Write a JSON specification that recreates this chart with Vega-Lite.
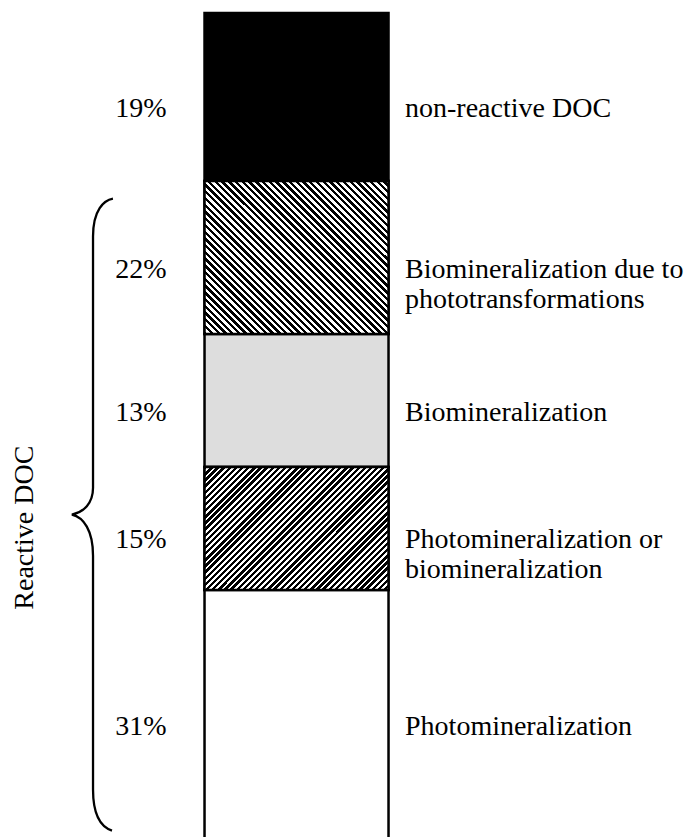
{
  "$schema": "https://vega.github.io/schema/vega-lite/v6.json",
  "width": 689,
  "height": 824,
  "autosize": {"type": "none"},
  "padding": {"top": 13, "left": 0, "right": 0, "bottom": 0},
  "background": "#ffffff",
  "config": {
    "view": {"stroke": null},
    "text": {"font": "Liberation Serif", "fontSize": 28, "color": "#000000"}
  },
  "datasets": {
    "pools": [
      {"pool": "DOC", "segment": "non-reactive DOC", "fraction": 0.19, "drawnShare": 20.31, "order": 1},
      {"pool": "DOC", "segment": "Biomineralization due to\nphototransformations", "fraction": 0.22, "drawnShare": 18.49, "order": 2},
      {"pool": "DOC", "segment": "Biomineralization", "fraction": 0.13, "drawnShare": 16.08, "order": 3},
      {"pool": "DOC", "segment": "Photomineralization or\nbiomineralization", "fraction": 0.15, "drawnShare": 14.86, "order": 4},
      {"pool": "DOC", "segment": "Photomineralization", "fraction": 0.31, "drawnShare": 30.26, "order": 5}
    ],
    "groups": [
      {"pool": "DOC", "group": "Reactive DOC", "from": 20.31, "to": 100}
    ]
  },
  "layer": [
    {
      "data": {"name": "pools"},
      "transform": [
        {"stack": "drawnShare", "groupby": ["pool"], "sort": [{"field": "order", "order": "ascending"}], "as": ["y0", "y1"]},
        {"calculate": "(datum.y0 + datum.y1) / 2", "as": "mid"}
      ],
      "layer": [
        {
          "mark": {"type": "bar", "stroke": "#000000", "strokeWidth": 2.5},
          "encoding": {
            "x": {"field": "pool", "type": "nominal", "axis": null, "scale": {"paddingInner": 0.2713, "paddingOuter": 1, "align": 0.405}},
            "y": {"field": "y0", "type": "quantitative", "axis": null, "scale": {"domain": [0, 99.6], "reverse": true, "nice": false, "zero": false}},
            "y2": {"field": "y1"},
            "fill": {
              "field": "segment", "type": "nominal", "legend": null,
              "scale": {
                "domain": ["non-reactive DOC", "Biomineralization due to\nphototransformations", "Biomineralization", "Photomineralization or\nbiomineralization", "Photomineralization"],
                "range": ["#000000", "#ffffff", "#dddddd", "#ffffff", "#ffffff"]
              }
            }
          }
        },
        {
          "transform": [{"filter": "datum.order == 2"}],
          "mark": {
            "type": "bar", "stroke": "#000000", "strokeWidth": 2.5,
            "fill": {
              "gradient": "linear", "x1": 0, "y1": 1, "x2": 1.0828, "y2": 0.0996,
              "stops": [
                {"offset":0,"color":"#000"},
                {"offset":0.01,"color":"#000"},{"offset":0.01,"color":"#fff"},
                {"offset":0.02,"color":"#fff"},{"offset":0.02,"color":"#000"},
                {"offset":0.03,"color":"#000"},{"offset":0.03,"color":"#fff"},
                {"offset":0.04,"color":"#fff"},{"offset":0.04,"color":"#000"},
                {"offset":0.05,"color":"#000"},{"offset":0.05,"color":"#fff"},
                {"offset":0.06,"color":"#fff"},{"offset":0.06,"color":"#000"},
                {"offset":0.07,"color":"#000"},{"offset":0.07,"color":"#fff"},
                {"offset":0.08,"color":"#fff"},{"offset":0.08,"color":"#000"},
                {"offset":0.09,"color":"#000"},{"offset":0.09,"color":"#fff"},
                {"offset":0.1,"color":"#fff"},{"offset":0.1,"color":"#000"},
                {"offset":0.11,"color":"#000"},{"offset":0.11,"color":"#fff"},
                {"offset":0.12,"color":"#fff"},{"offset":0.12,"color":"#000"},
                {"offset":0.13,"color":"#000"},{"offset":0.13,"color":"#fff"},
                {"offset":0.14,"color":"#fff"},{"offset":0.14,"color":"#000"},
                {"offset":0.15,"color":"#000"},{"offset":0.15,"color":"#fff"},
                {"offset":0.16,"color":"#fff"},{"offset":0.16,"color":"#000"},
                {"offset":0.17,"color":"#000"},{"offset":0.17,"color":"#fff"},
                {"offset":0.18,"color":"#fff"},{"offset":0.18,"color":"#000"},
                {"offset":0.19,"color":"#000"},{"offset":0.19,"color":"#fff"},
                {"offset":0.2,"color":"#fff"},{"offset":0.2,"color":"#000"},
                {"offset":0.21,"color":"#000"},{"offset":0.21,"color":"#fff"},
                {"offset":0.22,"color":"#fff"},{"offset":0.22,"color":"#000"},
                {"offset":0.23,"color":"#000"},{"offset":0.23,"color":"#fff"},
                {"offset":0.24,"color":"#fff"},{"offset":0.24,"color":"#000"},
                {"offset":0.25,"color":"#000"},{"offset":0.25,"color":"#fff"},
                {"offset":0.26,"color":"#fff"},{"offset":0.26,"color":"#000"},
                {"offset":0.27,"color":"#000"},{"offset":0.27,"color":"#fff"},
                {"offset":0.28,"color":"#fff"},{"offset":0.28,"color":"#000"},
                {"offset":0.29,"color":"#000"},{"offset":0.29,"color":"#fff"},
                {"offset":0.3,"color":"#fff"},{"offset":0.3,"color":"#000"},
                {"offset":0.31,"color":"#000"},{"offset":0.31,"color":"#fff"},
                {"offset":0.32,"color":"#fff"},{"offset":0.32,"color":"#000"},
                {"offset":0.33,"color":"#000"},{"offset":0.33,"color":"#fff"},
                {"offset":0.34,"color":"#fff"},{"offset":0.34,"color":"#000"},
                {"offset":0.35,"color":"#000"},{"offset":0.35,"color":"#fff"},
                {"offset":0.36,"color":"#fff"},{"offset":0.36,"color":"#000"},
                {"offset":0.37,"color":"#000"},{"offset":0.37,"color":"#fff"},
                {"offset":0.38,"color":"#fff"},{"offset":0.38,"color":"#000"},
                {"offset":0.39,"color":"#000"},{"offset":0.39,"color":"#fff"},
                {"offset":0.4,"color":"#fff"},{"offset":0.4,"color":"#000"},
                {"offset":0.41,"color":"#000"},{"offset":0.41,"color":"#fff"},
                {"offset":0.42,"color":"#fff"},{"offset":0.42,"color":"#000"},
                {"offset":0.43,"color":"#000"},{"offset":0.43,"color":"#fff"},
                {"offset":0.44,"color":"#fff"},{"offset":0.44,"color":"#000"},
                {"offset":0.45,"color":"#000"},{"offset":0.45,"color":"#fff"},
                {"offset":0.46,"color":"#fff"},{"offset":0.46,"color":"#000"},
                {"offset":0.47,"color":"#000"},{"offset":0.47,"color":"#fff"},
                {"offset":0.48,"color":"#fff"},{"offset":0.48,"color":"#000"},
                {"offset":0.49,"color":"#000"},{"offset":0.49,"color":"#fff"},
                {"offset":0.5,"color":"#fff"},{"offset":0.5,"color":"#000"},
                {"offset":0.51,"color":"#000"},{"offset":0.51,"color":"#fff"},
                {"offset":0.52,"color":"#fff"},{"offset":0.52,"color":"#000"},
                {"offset":0.53,"color":"#000"},{"offset":0.53,"color":"#fff"},
                {"offset":0.54,"color":"#fff"},{"offset":0.54,"color":"#000"},
                {"offset":0.55,"color":"#000"},{"offset":0.55,"color":"#fff"},
                {"offset":0.56,"color":"#fff"},{"offset":0.56,"color":"#000"},
                {"offset":0.57,"color":"#000"},{"offset":0.57,"color":"#fff"},
                {"offset":0.58,"color":"#fff"},{"offset":0.58,"color":"#000"},
                {"offset":0.59,"color":"#000"},{"offset":0.59,"color":"#fff"},
                {"offset":0.6,"color":"#fff"},{"offset":0.6,"color":"#000"},
                {"offset":0.61,"color":"#000"},{"offset":0.61,"color":"#fff"},
                {"offset":0.62,"color":"#fff"},{"offset":0.62,"color":"#000"},
                {"offset":0.63,"color":"#000"},{"offset":0.63,"color":"#fff"},
                {"offset":0.64,"color":"#fff"},{"offset":0.64,"color":"#000"},
                {"offset":0.65,"color":"#000"},{"offset":0.65,"color":"#fff"},
                {"offset":0.66,"color":"#fff"},{"offset":0.66,"color":"#000"},
                {"offset":0.67,"color":"#000"},{"offset":0.67,"color":"#fff"},
                {"offset":0.68,"color":"#fff"},{"offset":0.68,"color":"#000"},
                {"offset":0.69,"color":"#000"},{"offset":0.69,"color":"#fff"},
                {"offset":0.7,"color":"#fff"},{"offset":0.7,"color":"#000"},
                {"offset":0.71,"color":"#000"},{"offset":0.71,"color":"#fff"},
                {"offset":0.72,"color":"#fff"},{"offset":0.72,"color":"#000"},
                {"offset":0.73,"color":"#000"},{"offset":0.73,"color":"#fff"},
                {"offset":0.74,"color":"#fff"},{"offset":0.74,"color":"#000"},
                {"offset":0.75,"color":"#000"},{"offset":0.75,"color":"#fff"},
                {"offset":0.76,"color":"#fff"},{"offset":0.76,"color":"#000"},
                {"offset":0.77,"color":"#000"},{"offset":0.77,"color":"#fff"},
                {"offset":0.78,"color":"#fff"},{"offset":0.78,"color":"#000"},
                {"offset":0.79,"color":"#000"},{"offset":0.79,"color":"#fff"},
                {"offset":0.8,"color":"#fff"},{"offset":0.8,"color":"#000"},
                {"offset":0.81,"color":"#000"},{"offset":0.81,"color":"#fff"},
                {"offset":0.82,"color":"#fff"},{"offset":0.82,"color":"#000"},
                {"offset":0.83,"color":"#000"},{"offset":0.83,"color":"#fff"},
                {"offset":0.84,"color":"#fff"},{"offset":0.84,"color":"#000"},
                {"offset":0.85,"color":"#000"},{"offset":0.85,"color":"#fff"},
                {"offset":0.86,"color":"#fff"},{"offset":0.86,"color":"#000"},
                {"offset":0.87,"color":"#000"},{"offset":0.87,"color":"#fff"},
                {"offset":0.88,"color":"#fff"},{"offset":0.88,"color":"#000"},
                {"offset":0.89,"color":"#000"},{"offset":0.89,"color":"#fff"},
                {"offset":0.9,"color":"#fff"},{"offset":0.9,"color":"#000"},
                {"offset":0.91,"color":"#000"},{"offset":0.91,"color":"#fff"},
                {"offset":0.92,"color":"#fff"},{"offset":0.92,"color":"#000"},
                {"offset":0.93,"color":"#000"},{"offset":0.93,"color":"#fff"},
                {"offset":0.94,"color":"#fff"},{"offset":0.94,"color":"#000"},
                {"offset":0.95,"color":"#000"},{"offset":0.95,"color":"#fff"},
                {"offset":0.96,"color":"#fff"},{"offset":0.96,"color":"#000"},
                {"offset":0.97,"color":"#000"},{"offset":0.97,"color":"#fff"},
                {"offset":0.98,"color":"#fff"},{"offset":0.98,"color":"#000"},
                {"offset":0.99,"color":"#000"},{"offset":0.99,"color":"#fff"},
                {"offset":1,"color":"#fff"}
              ]
            }
          },
          "encoding": {
            "x": {"field": "pool", "type": "nominal"},
            "y": {"field": "y0", "type": "quantitative"},
            "y2": {"field": "y1"}
          }
        },
        {
          "transform": [{"filter": "datum.order == 4"}],
          "mark": {
            "type": "bar", "stroke": "#000000", "strokeWidth": 2.5,
            "fill": {
              "gradient": "linear", "x1": 0, "y1": 0, "x2": 1.1534, "y2": 0.7705,
              "stops": [
                {"offset":0,"color":"#000"},
                {"offset":0.011,"color":"#000"},{"offset":0.011,"color":"#fff"},
                {"offset":0.02,"color":"#fff"},{"offset":0.02,"color":"#000"},
                {"offset":0.031,"color":"#000"},{"offset":0.031,"color":"#fff"},
                {"offset":0.04,"color":"#fff"},{"offset":0.04,"color":"#000"},
                {"offset":0.051,"color":"#000"},{"offset":0.051,"color":"#fff"},
                {"offset":0.06,"color":"#fff"},{"offset":0.06,"color":"#000"},
                {"offset":0.071,"color":"#000"},{"offset":0.071,"color":"#fff"},
                {"offset":0.08,"color":"#fff"},{"offset":0.08,"color":"#000"},
                {"offset":0.091,"color":"#000"},{"offset":0.091,"color":"#fff"},
                {"offset":0.1,"color":"#fff"},{"offset":0.1,"color":"#000"},
                {"offset":0.111,"color":"#000"},{"offset":0.111,"color":"#fff"},
                {"offset":0.12,"color":"#fff"},{"offset":0.12,"color":"#000"},
                {"offset":0.131,"color":"#000"},{"offset":0.131,"color":"#fff"},
                {"offset":0.14,"color":"#fff"},{"offset":0.14,"color":"#000"},
                {"offset":0.151,"color":"#000"},{"offset":0.151,"color":"#fff"},
                {"offset":0.16,"color":"#fff"},{"offset":0.16,"color":"#000"},
                {"offset":0.171,"color":"#000"},{"offset":0.171,"color":"#fff"},
                {"offset":0.18,"color":"#fff"},{"offset":0.18,"color":"#000"},
                {"offset":0.191,"color":"#000"},{"offset":0.191,"color":"#fff"},
                {"offset":0.2,"color":"#fff"},{"offset":0.2,"color":"#000"},
                {"offset":0.211,"color":"#000"},{"offset":0.211,"color":"#fff"},
                {"offset":0.22,"color":"#fff"},{"offset":0.22,"color":"#000"},
                {"offset":0.231,"color":"#000"},{"offset":0.231,"color":"#fff"},
                {"offset":0.24,"color":"#fff"},{"offset":0.24,"color":"#000"},
                {"offset":0.251,"color":"#000"},{"offset":0.251,"color":"#fff"},
                {"offset":0.26,"color":"#fff"},{"offset":0.26,"color":"#000"},
                {"offset":0.271,"color":"#000"},{"offset":0.271,"color":"#fff"},
                {"offset":0.28,"color":"#fff"},{"offset":0.28,"color":"#000"},
                {"offset":0.291,"color":"#000"},{"offset":0.291,"color":"#fff"},
                {"offset":0.3,"color":"#fff"},{"offset":0.3,"color":"#000"},
                {"offset":0.311,"color":"#000"},{"offset":0.311,"color":"#fff"},
                {"offset":0.32,"color":"#fff"},{"offset":0.32,"color":"#000"},
                {"offset":0.331,"color":"#000"},{"offset":0.331,"color":"#fff"},
                {"offset":0.34,"color":"#fff"},{"offset":0.34,"color":"#000"},
                {"offset":0.351,"color":"#000"},{"offset":0.351,"color":"#fff"},
                {"offset":0.36,"color":"#fff"},{"offset":0.36,"color":"#000"},
                {"offset":0.371,"color":"#000"},{"offset":0.371,"color":"#fff"},
                {"offset":0.38,"color":"#fff"},{"offset":0.38,"color":"#000"},
                {"offset":0.391,"color":"#000"},{"offset":0.391,"color":"#fff"},
                {"offset":0.4,"color":"#fff"},{"offset":0.4,"color":"#000"},
                {"offset":0.411,"color":"#000"},{"offset":0.411,"color":"#fff"},
                {"offset":0.42,"color":"#fff"},{"offset":0.42,"color":"#000"},
                {"offset":0.431,"color":"#000"},{"offset":0.431,"color":"#fff"},
                {"offset":0.44,"color":"#fff"},{"offset":0.44,"color":"#000"},
                {"offset":0.451,"color":"#000"},{"offset":0.451,"color":"#fff"},
                {"offset":0.46,"color":"#fff"},{"offset":0.46,"color":"#000"},
                {"offset":0.471,"color":"#000"},{"offset":0.471,"color":"#fff"},
                {"offset":0.48,"color":"#fff"},{"offset":0.48,"color":"#000"},
                {"offset":0.491,"color":"#000"},{"offset":0.491,"color":"#fff"},
                {"offset":0.5,"color":"#fff"},{"offset":0.5,"color":"#000"},
                {"offset":0.511,"color":"#000"},{"offset":0.511,"color":"#fff"},
                {"offset":0.52,"color":"#fff"},{"offset":0.52,"color":"#000"},
                {"offset":0.531,"color":"#000"},{"offset":0.531,"color":"#fff"},
                {"offset":0.54,"color":"#fff"},{"offset":0.54,"color":"#000"},
                {"offset":0.551,"color":"#000"},{"offset":0.551,"color":"#fff"},
                {"offset":0.56,"color":"#fff"},{"offset":0.56,"color":"#000"},
                {"offset":0.571,"color":"#000"},{"offset":0.571,"color":"#fff"},
                {"offset":0.58,"color":"#fff"},{"offset":0.58,"color":"#000"},
                {"offset":0.591,"color":"#000"},{"offset":0.591,"color":"#fff"},
                {"offset":0.6,"color":"#fff"},{"offset":0.6,"color":"#000"},
                {"offset":0.611,"color":"#000"},{"offset":0.611,"color":"#fff"},
                {"offset":0.62,"color":"#fff"},{"offset":0.62,"color":"#000"},
                {"offset":0.631,"color":"#000"},{"offset":0.631,"color":"#fff"},
                {"offset":0.64,"color":"#fff"},{"offset":0.64,"color":"#000"},
                {"offset":0.651,"color":"#000"},{"offset":0.651,"color":"#fff"},
                {"offset":0.66,"color":"#fff"},{"offset":0.66,"color":"#000"},
                {"offset":0.671,"color":"#000"},{"offset":0.671,"color":"#fff"},
                {"offset":0.68,"color":"#fff"},{"offset":0.68,"color":"#000"},
                {"offset":0.691,"color":"#000"},{"offset":0.691,"color":"#fff"},
                {"offset":0.7,"color":"#fff"},{"offset":0.7,"color":"#000"},
                {"offset":0.711,"color":"#000"},{"offset":0.711,"color":"#fff"},
                {"offset":0.72,"color":"#fff"},{"offset":0.72,"color":"#000"},
                {"offset":0.731,"color":"#000"},{"offset":0.731,"color":"#fff"},
                {"offset":0.74,"color":"#fff"},{"offset":0.74,"color":"#000"},
                {"offset":0.751,"color":"#000"},{"offset":0.751,"color":"#fff"},
                {"offset":0.76,"color":"#fff"},{"offset":0.76,"color":"#000"},
                {"offset":0.771,"color":"#000"},{"offset":0.771,"color":"#fff"},
                {"offset":0.78,"color":"#fff"},{"offset":0.78,"color":"#000"},
                {"offset":0.791,"color":"#000"},{"offset":0.791,"color":"#fff"},
                {"offset":0.8,"color":"#fff"},{"offset":0.8,"color":"#000"},
                {"offset":0.811,"color":"#000"},{"offset":0.811,"color":"#fff"},
                {"offset":0.82,"color":"#fff"},{"offset":0.82,"color":"#000"},
                {"offset":0.831,"color":"#000"},{"offset":0.831,"color":"#fff"},
                {"offset":0.84,"color":"#fff"},{"offset":0.84,"color":"#000"},
                {"offset":0.851,"color":"#000"},{"offset":0.851,"color":"#fff"},
                {"offset":0.86,"color":"#fff"},{"offset":0.86,"color":"#000"},
                {"offset":0.871,"color":"#000"},{"offset":0.871,"color":"#fff"},
                {"offset":0.88,"color":"#fff"},{"offset":0.88,"color":"#000"},
                {"offset":0.891,"color":"#000"},{"offset":0.891,"color":"#fff"},
                {"offset":0.9,"color":"#fff"},{"offset":0.9,"color":"#000"},
                {"offset":0.911,"color":"#000"},{"offset":0.911,"color":"#fff"},
                {"offset":0.92,"color":"#fff"},{"offset":0.92,"color":"#000"},
                {"offset":0.931,"color":"#000"},{"offset":0.931,"color":"#fff"},
                {"offset":0.94,"color":"#fff"},{"offset":0.94,"color":"#000"},
                {"offset":0.951,"color":"#000"},{"offset":0.951,"color":"#fff"},
                {"offset":0.96,"color":"#fff"},{"offset":0.96,"color":"#000"},
                {"offset":0.971,"color":"#000"},{"offset":0.971,"color":"#fff"},
                {"offset":0.98,"color":"#fff"},{"offset":0.98,"color":"#000"},
                {"offset":0.991,"color":"#000"},{"offset":0.991,"color":"#fff"},
                {"offset":1,"color":"#fff"}
              ]
            }
          },
          "encoding": {
            "x": {"field": "pool", "type": "nominal"},
            "y": {"field": "y0", "type": "quantitative"},
            "y2": {"field": "y1"}
          }
        },
        {
          "mark": {"type": "text", "align": "center", "baseline": "middle", "dx": -155.5, "dy": 12},
          "encoding": {
            "x": {"field": "pool", "type": "nominal"},
            "y": {"field": "mid", "type": "quantitative"},
            "text": {"field": "fraction", "type": "quantitative", "format": ".0%"}
          }
        },
        {
          "mark": {"type": "text", "align": "left", "baseline": "middle", "dx": 108.5, "dy": 12, "lineBreak": "\n", "lineHeight": 30},
          "encoding": {
            "x": {"field": "pool", "type": "nominal"},
            "y": {"field": "mid", "type": "quantitative"},
            "text": {"field": "segment", "type": "nominal"}
          }
        }
      ]
    },
    {
      "data": {"name": "groups"},
      "transform": [{"calculate": "(datum.from + datum.to) / 2", "as": "mid"}],
      "layer": [
        {
          "mark": {
            "type": "point",
            "shape": "M 0.063 -1 C 0.035 -0.995 0 -0.965 0 -0.88 L 0 -0.085 C 0 -0.035 -0.03 -0.008 -0.067 0 C -0.03 0.008 0 0.05 0 0.13 L 0 0.87 C 0 0.96 0.03 0.99 0.06 1",
            "size": 399424,
            "filled": false,
            "stroke": "#000000",
            "strokeWidth": 2.3,
            "opacity": 1,
            "xOffset": -203.5,
            "yOffset": 4
          },
          "encoding": {
            "x": {"field": "pool", "type": "nominal"},
            "y": {"field": "mid", "type": "quantitative"}
          }
        },
        {
          "mark": {"type": "text", "angle": 270, "align": "center", "baseline": "middle", "xOffset": -271.5, "yOffset": 17},
          "encoding": {
            "x": {"field": "pool", "type": "nominal"},
            "y": {"field": "mid", "type": "quantitative"},
            "text": {"field": "group", "type": "nominal"}
          }
        }
      ]
    }
  ]
}
